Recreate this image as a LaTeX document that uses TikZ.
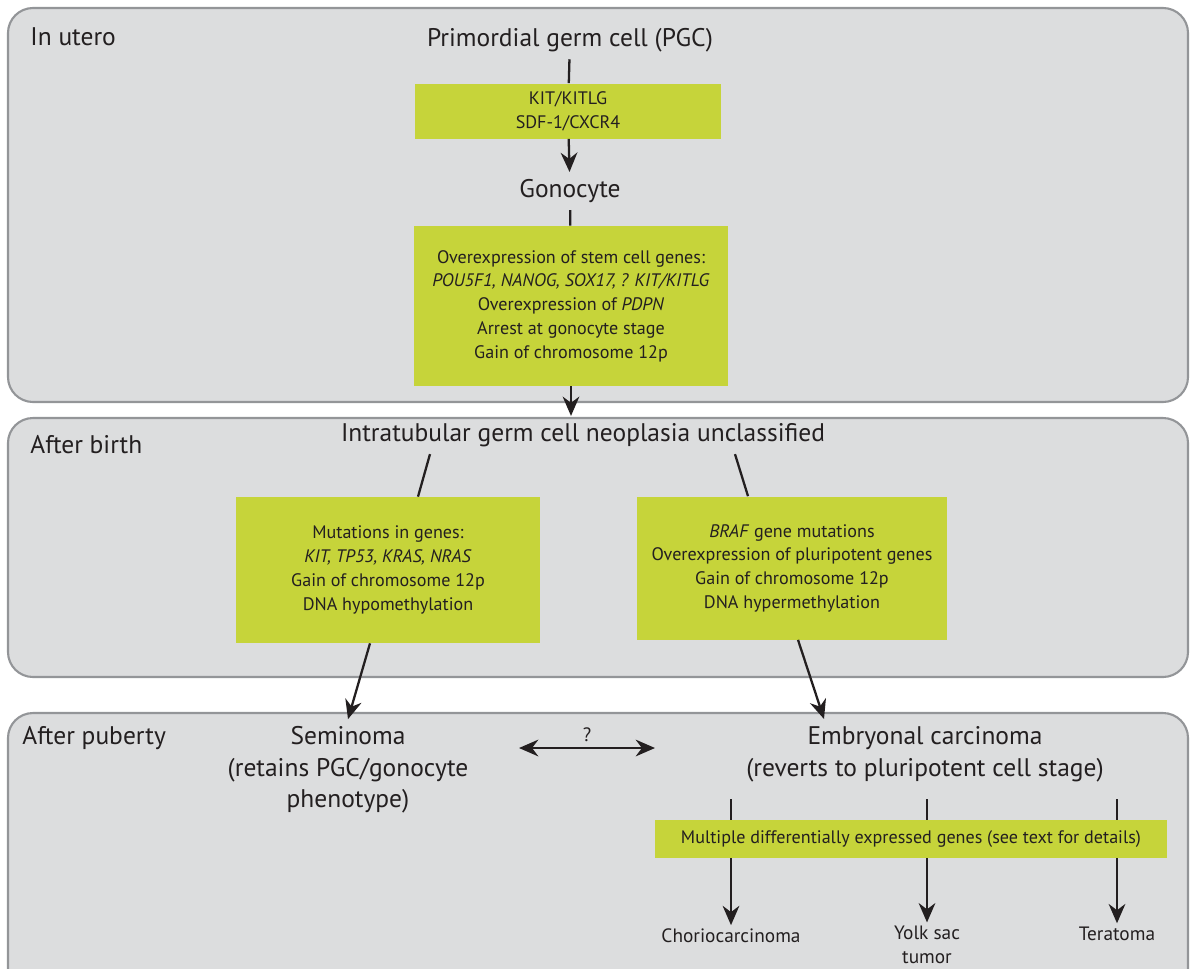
\documentclass[tikz,border=0pt]{standalone}
\usepackage{fontspec}
\setmainfont{PT Sans}
\usetikzlibrary{calc,arrows.meta}
\definecolor{panelgray}{HTML}{DCDDDE}
\definecolor{panelline}{HTML}{939598}
\definecolor{genegreen}{HTML}{C6D43A}
\definecolor{inkblack}{HTML}{231F20}
\begin{document}
\begin{tikzpicture}[x=0.02cm,y=-0.02cm,
                    panel/.style={draw=panelline,fill=panelgray,line width=1.2pt,rounded corners=0.5cm},
                    period label/.style={anchor=west,text=inkblack,inner sep=0pt,font=\fontsize{14.5}{18}\selectfont},
                    stage node/.style={align=center,text=inkblack,inner sep=4pt,font=\fontsize{14.5}{18}\selectfont},
                    gene box/.style={fill=genegreen,align=center,text=inkblack,inner sep=0pt,font=\fontsize{10.3}{13.5}\selectfont},
                    tumor node/.style={align=center,text=inkblack,inner sep=2pt,font=\fontsize{11}{13.5}\selectfont},
                    link/.style={draw=inkblack,line width=1.3pt},
                    flow/.style={link,-{Stealth[length=11pt,width=9.5pt]}},
                    both flow/.style={link,{Stealth[length=11pt,width=9.5pt]}-{Stealth[length=11pt,width=9.5pt]}}
                   ]
   \useasboundingbox (0,0) rectangle (1190,968);
   \clip (0,0) rectangle (1190,968);
   % the three periods
   \draw[panel] (8,8) rectangle (1188,402);
   \draw[panel] (8,418) rectangle (1188,677);
   \draw[panel] (8,713) rectangle (1188,1010);
   \node[period label] (utero) at (30,37) {In utero};
   \node[period label] (birth) at (30,445) {After birth};
   \node[period label] (puberty) at (22,738) {After puberty};
   % in utero
   \node[stage node] (pgc) at (570,40) {Primordial germ cell (PGC)};
   \node[gene box,minimum width=6.14cm,minimum height=1.1cm] (kit) at (568,111) {KIT/KITLG\\SDF-1/CXCR4};
   \node[stage node] (gono) at (570,191) {Gonocyte};
   \node[gene box,minimum width=6.28cm,minimum height=3.2cm] (stem) at (571,306)
     {Overexpression of stem cell genes:\\
      \textit{POU5F1, NANOG, SOX17, ? KIT/KITLG}\\
      Overexpression of \textit{PDPN}\\
      Arrest at gonocyte stage\\
      Gain of chromosome 12p};
   % after birth
   \node[stage node] (itgcnu) at (583,435) {Intratubular germ cell neoplasia unclassified};
   \node[gene box,minimum width=6.1cm,minimum height=2.92cm] (semgenes) at (388,570)
     {Mutations in genes:\\
      \textit{KIT, TP53, KRAS, NRAS}\\
      Gain of chromosome 12p\\
      DNA hypomethylation};
   \node[gene box,minimum width=6.22cm,minimum height=2.86cm] (embgenes) at (792,568)
     {\textit{BRAF} gene mutations\\
      Overexpression of pluripotent genes\\
      Gain of chromosome 12p\\
      DNA hypermethylation};
   % after puberty
   \node[stage node] (sem) at (348,770) {Seminoma\\(retains PGC/gonocyte\\phenotype)};
   \node[stage node] (emb) at (925,754) {Embryonal carcinoma\\(reverts to pluripotent cell stage)};
   \node[gene box,minimum width=10.24cm,minimum height=0.76cm] (diff) at (911,839)
     {Multiple differentially expressed genes (see text for details)};
   \node[tumor node] (chorio) at (731,936) {Choriocarcinoma};
   \node[tumor node] (yolk) at (927,945) {Yolk sac\\tumor};
   \node[tumor node] (terat) at (1117,934) {Teratoma};
   \coordinate (qleft) at (519,748);
   \coordinate (qright) at (655,748);
   \path%
     (pgc) edge[link] (kit)
     (kit) edge[flow] (gono)
     (gono) edge[link] (stem)
     (stem.south) edge[flow] (stem.south |- itgcnu.north);
   \draw[link] ($(itgcnu.south)+(-153,0)$) -- ($(semgenes.north)+(30,0)$);
   \draw[link] ($(itgcnu.south)+(152,0)$) -- ($(embgenes.north)+(-44,0)$);
   \draw[flow] ($(semgenes.south)+(-18,0)$) -- (sem.north);
   \draw[flow] ($(embgenes.south)+(6,0)$) -- ($(emb.north)+(-101,0)$);
   \draw[both flow] (qleft) -- node[above=1pt,tumor node] {?} (qright);
   \foreach \t in {chorio,yolk,terat} {
     \draw[link] ([yshift=-0.2cm]emb.south -| \t) -- (diff.north -| \t);
     \draw[flow] (diff.south -| \t) -- (\t);
   }
 \end{tikzpicture}
\end{document}
